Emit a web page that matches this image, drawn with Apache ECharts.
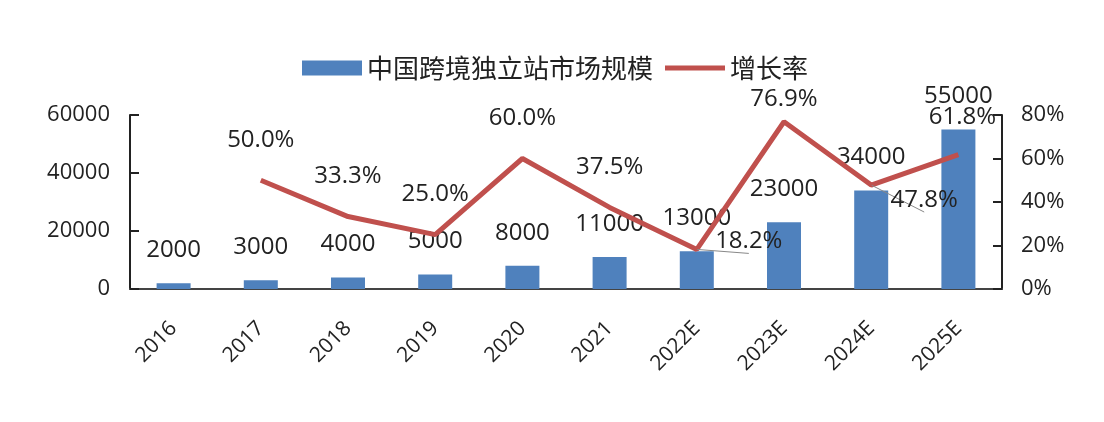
<!DOCTYPE html>
<html><head><meta charset="utf-8">
<script src="https://cdn.jsdelivr.net/npm/echarts@6/dist/echarts.min.js"></script>
<style>html,body{margin:0;padding:0;background:#fff}#c{width:1104px;height:422px}</style>
</head><body><div id="c"></div>
<script>
const categories = ['2016','2017','2018','2019','2020','2021','2022E','2023E','2024E','2025E'];
const marketSize = [2000,3000,4000,5000,8000,11000,13000,23000,34000,55000];
const growthRate = [null,0.50,0.333,0.25,0.60,0.375,0.182,0.769,0.478,0.618];
const leftTicks = {min:0,max:60000,interval:20000};
const rightTicks = {min:0,max:0.8,interval:0.2};
const barName = '中国跨境独立站市场规模';
const lineName = '增长率';

const labelOffsets = {6:[52,-8],7:[0,-23],8:[53,15],9:[4,-37]};
const lineData = growthRate.map((v,i)=>{
  const o = labelOffsets[i] || [0,-40];
  const item = {value:v, label:{offset:o}};
  if (i===6 || i===8) item.labelLine = {show:true};
  return item;
});

const font = '"Open Sans", "DejaVu Sans", sans-serif';
const chart = echarts.init(document.getElementById('c'));
chart.setOption({
  animation:false,
  backgroundColor:'#fff',
  legend:{
    left:297, top:50, itemWidth:60, itemHeight:15, itemGap:12,
    textStyle:{fontFamily:'"Noto Sans CJK SC", sans-serif', fontSize:26, color:'#222'},
    data:[
      {name:barName, icon:'rect'},
      {name:lineName, icon:'path://M0,0H60V5H0Z', itemStyle:{color:'#C0504D'}}
    ]
  },
  grid:{left:130, right:102, top:115, bottom:133},
  xAxis:{
    type:'category', data:categories,
    axisLine:{lineStyle:{color:'#444', width:2}},
    axisTick:{show:false},
    axisLabel:{rotate:45, margin:36, fontFamily:font, fontSize:21, color:'#222', interval:0}
  },
  yAxis:[
    {type:'value', min:leftTicks.min, max:leftTicks.max, interval:leftTicks.interval,
     splitLine:{show:false},
     axisLine:{show:true, lineStyle:{color:'#222', width:2}},
     axisTick:{show:true, inside:true, length:9, lineStyle:{color:'#222', width:2}},
     axisLabel:{margin:20, fontFamily:font, fontSize:22, color:'#222', formatter:v=>String(v)}},
    {type:'value', min:rightTicks.min, max:rightTicks.max, interval:rightTicks.interval,
     splitLine:{show:false},
     axisLine:{show:true, lineStyle:{color:'#222', width:2}},
     axisTick:{show:true, inside:true, length:9, lineStyle:{color:'#222', width:2}},
     axisLabel:{margin:19, fontFamily:font, fontSize:22, color:'#222',
       formatter:v=>Math.round(v*100)+'%'}}
  ],
  series:[
    {name:barName, type:'bar', data:marketSize, barWidth:34, yAxisIndex:0,
     itemStyle:{color:'#4F81BD'},
     label:{show:true, position:'top', distance:21, fontFamily:font, fontSize:24, color:'#222'}},
    {name:lineName, type:'line', data:lineData, yAxisIndex:1,
     symbol:'circle', symbolSize:1, showSymbol:true,
     itemStyle:{color:'rgba(0,0,0,0)'},
     lineStyle:{color:'#C0504D', width:5},
     connectNulls:false,
     label:{show:true, position:'inside', fontFamily:font, fontSize:24, color:'#222',
       formatter:p=>(p.value*100).toFixed(1)+'%'},
     labelLine:{show:false, lineStyle:{color:'#888', width:1}}}
  ]
});
</script></body></html>
